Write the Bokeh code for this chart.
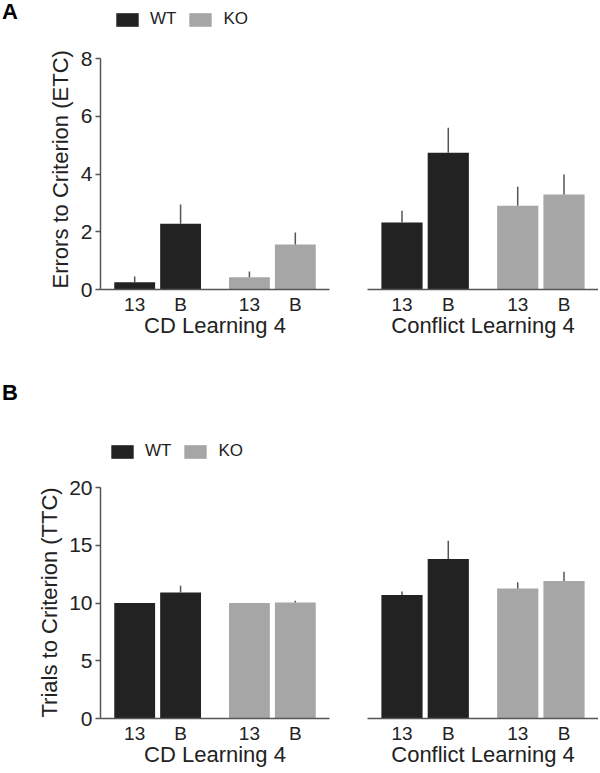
from bokeh.plotting import figure
from bokeh.models import (FactorRange, Range1d, Legend, LegendItem, ColumnDataSource,
                          FixedTicker, Div, Title)
from bokeh.layouts import column, row
from bokeh.embed import file_html
from bokeh.resources import INLINE

# ---------------- data ----------------
genotypes = ["WT", "KO"]
conditions = ["13", "B"]
tasks = ["CD Learning 4", "Conflict Learning 4"]
panel_letters = ["A", "B"]
y_labels = ["Errors to Criterion (ETC)", "Trials to Criterion (TTC)"]

# Panel A: Errors to Criterion (ETC)
etc_cd_wt = [0.25, 2.28]
etc_cd_wt_sem = [0.20, 0.66]
etc_cd_ko = [0.42, 1.56]
etc_cd_ko_sem = [0.20, 0.41]
etc_conf_wt = [2.32, 4.74]
etc_conf_wt_sem = [0.41, 0.86]
etc_conf_ko = [2.90, 3.29]
etc_conf_ko_sem = [0.66, 0.69]
etc_ticks = [0, 2, 4, 6, 8]

# Panel B: Trials to Criterion (TTC)
ttc_cd_wt = [10.0, 10.9]
ttc_cd_wt_sem = [0.0, 0.6]
ttc_cd_ko = [10.0, 10.05]
ttc_cd_ko_sem = [0.0, 0.15]
ttc_conf_wt = [10.7, 13.8]
ttc_conf_wt_sem = [0.3, 1.6]
ttc_conf_ko = [11.25, 11.9]
ttc_conf_ko_sem = [0.55, 0.8]
ttc_ticks = [0, 5, 10, 15, 20]

# ---------------- style ----------------
FONT = "Liberation Sans"
WT_COLOR = "#222222"
KO_COLOR = "#a6a6a6"
ERR_COLOR = "#555555"
AXIS_COLOR = "#555555"
TEXT_COLOR = "#222222"


def make_fig(task, wt, wt_sem, ko, ko_sem, y_range, ticks, width, height, bottom,
             min_left, min_right, with_y, y_label=None):
    factors = [(g, c) for g in genotypes for c in conditions]
    x_range = FactorRange(*factors, group_padding=0.5, range_padding=0.245,
                          range_padding_units="absolute")
    p = figure(x_range=x_range, y_range=y_range, width=width, height=height,
               output_backend="svg", toolbar_location=None,
               min_border_left=min_left, min_border_right=min_right,
               min_border_top=0, min_border_bottom=bottom)
    p.outline_line_color = None
    p.grid.grid_line_color = None
    p.background_fill_color = "white"
    p.border_fill_color = "white"

    renderers = {}
    for g, means, sems, col in (("WT", wt, wt_sem, WT_COLOR), ("KO", ko, ko_sem, KO_COLOR)):
        xs = [(g, c) for c in conditions]
        src = ColumnDataSource(dict(x=xs, top=means,
                                    up=[m + s for m, s in zip(means, sems)]))
        renderers[g] = p.vbar(x="x", top="top", width=0.89, source=src,
                              fill_color=col, line_color=None)
        p.segment(x0="x", y0="top", x1="x", y1="up", source=src,
                  line_color=ERR_COLOR, line_width=1.5)

    xa = p.xaxis[0]
    xa.axis_line_color = AXIS_COLOR
    xa.axis_line_width = 1.5
    xa.major_tick_line_color = None
    xa.major_tick_out = 0
    xa.minor_tick_line_color = None
    xa.separator_line_color = None
    xa.major_label_text_font = FONT
    xa.major_label_text_font_size = "19px"
    xa.major_label_text_color = TEXT_COLOR
    xa.major_label_standoff = 4
    xa.group_text_font_size = "0px"
    xa.group_text_color = None
    xa.axis_label = task
    xa.axis_label_text_font = FONT
    xa.axis_label_text_font_size = "22px"
    xa.axis_label_text_font_style = "normal"
    xa.axis_label_text_color = TEXT_COLOR
    xa.axis_label_standoff = -5

    ya = p.yaxis[0]
    if with_y:
        ya.ticker = FixedTicker(ticks=ticks)
        ya.bounds = (ticks[0], ticks[-1])
        ya.axis_line_color = AXIS_COLOR
        ya.axis_line_width = 1.5
        ya.major_tick_line_color = AXIS_COLOR
        ya.major_tick_line_width = 1.5
        ya.major_tick_out = 5
        ya.major_tick_in = 0
        ya.minor_tick_line_color = None
        ya.major_label_text_font = FONT
        ya.major_label_text_font_size = "21px"
        ya.major_label_text_color = TEXT_COLOR
        ya.major_label_standoff = 3
        p.add_layout(Title(text=y_label, align="left", offset=1,
                           standoff=10, text_font=FONT, text_font_size="22px",
                           text_font_style="normal", text_color=TEXT_COLOR), "left")
    else:
        ya.visible = False
    return p, renderers


def add_legend(p, legend_x, legend_y, renderers):
    legend = Legend(items=[LegendItem(label=g, renderers=[renderers[g]]) for g in genotypes],
                    orientation="horizontal", location=(legend_x, legend_y),
                    glyph_width=28, glyph_height=17, label_standoff=9, spacing=10,
                    padding=0, margin=0, border_line_color=None,
                    background_fill_alpha=0, label_text_font=FONT,
                    label_text_font_size="17px", label_text_color=TEXT_COLOR)
    p.add_layout(legend)


def letter_div(letter, pad_top, height):
    return Div(text=letter, width=20, height=height, margin=0,
               styles={"font-family": FONT, "font-size": "22px", "font-weight": "bold",
                       "line-height": "1", "padding-top": f"{pad_top}px",
                       "padding-left": "2px", "color": "black"})


# ---------------- panel A ----------------
A_BOTTOM = 56
A_FRAME = 289
A_H = A_FRAME + A_BOTTOM
yA = Range1d(0, 8 * A_FRAME / 231.0)
pA1, rA1 = make_fig(tasks[0], etc_cd_wt, etc_cd_wt_sem, etc_cd_ko, etc_cd_ko_sem,
                    yA, etc_ticks, 328, A_H, A_BOTTOM, 80, 19, True, y_labels[0])
pA2, _ = make_fig(tasks[1], etc_conf_wt, etc_conf_wt_sem, etc_conf_ko, etc_conf_ko_sem,
                  yA, etc_ticks, 250, A_H, A_BOTTOM, 19, 0, False)
add_legend(pA1, 13, 260, rA1)

# ---------------- panel B ----------------
B_BOTTOM = 54
B_FRAME = 373
B_H = B_FRAME + B_BOTTOM
yB = Range1d(0, 20 * B_FRAME / 231.0)
pB1, rB1 = make_fig(tasks[0], ttc_cd_wt, ttc_cd_wt_sem, ttc_cd_ko, ttc_cd_ko_sem,
                    yB, ttc_ticks, 328, B_H, B_BOTTOM, 80, 19, True, y_labels[1])
pB2, _ = make_fig(tasks[1], ttc_conf_wt, ttc_conf_wt_sem, ttc_conf_ko, ttc_conf_ko_sem,
                  yB, ttc_ticks, 250, B_H, B_BOTTOM, 19, 0, False)
add_legend(pB1, 8, 257, rB1)

layout = column(
    row(letter_div(panel_letters[0], 1, 40), pA1, pA2),
    row(letter_div(panel_letters[1], 37, 70), pB1, pB2),
)
open("out.html", "w").write(file_html(layout, INLINE))
